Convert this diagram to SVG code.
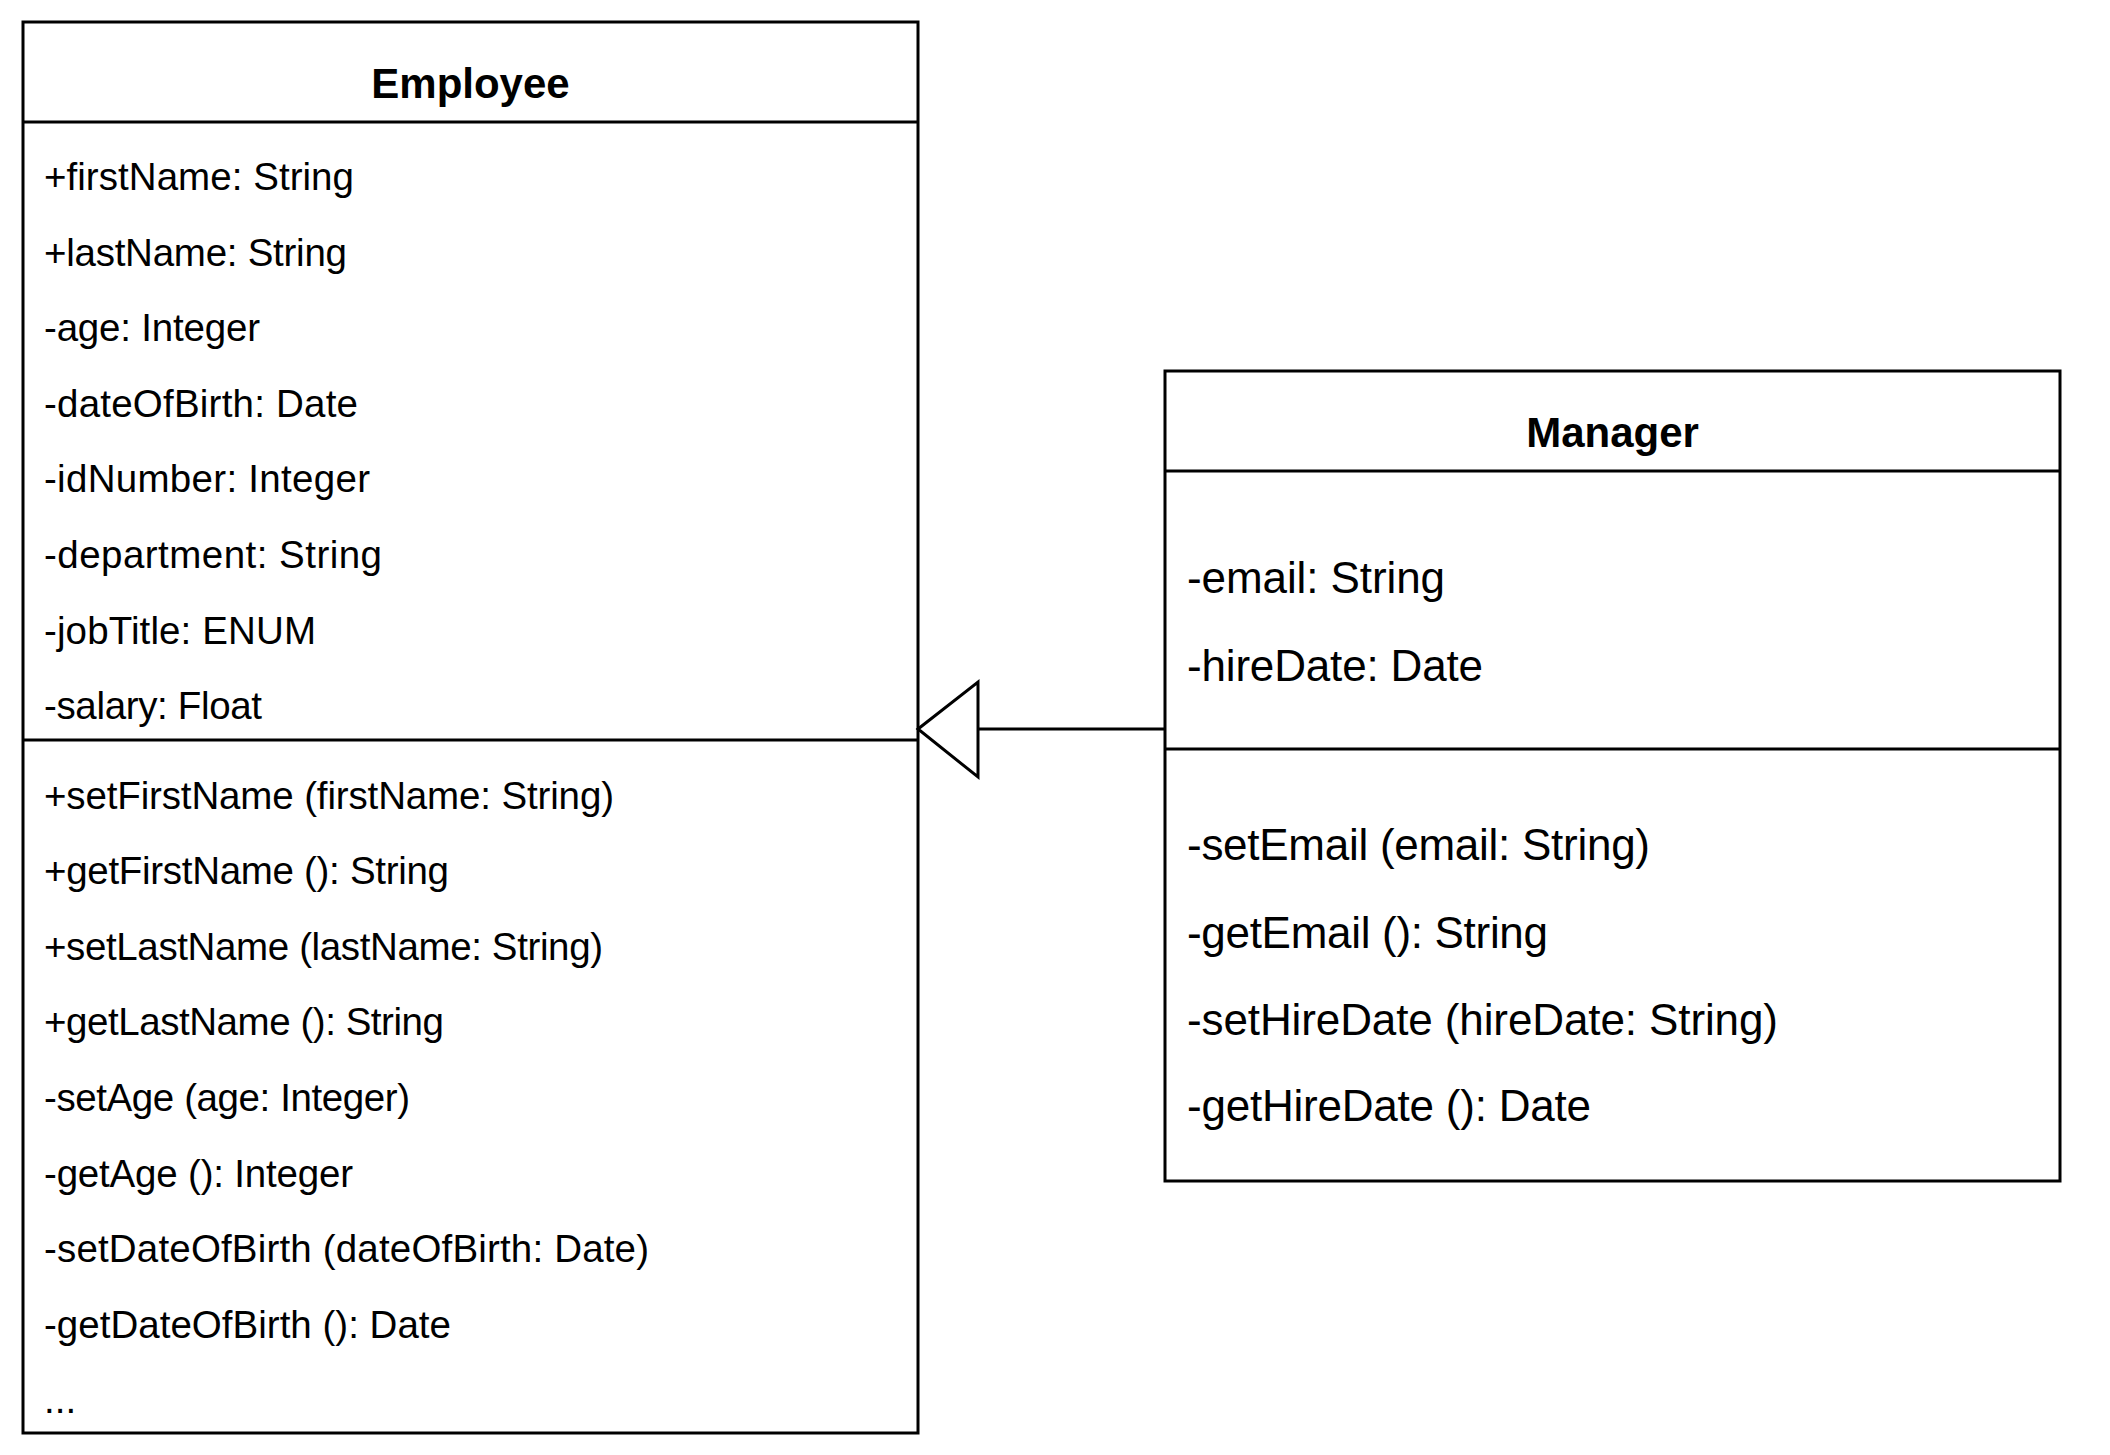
<svg xmlns="http://www.w3.org/2000/svg" width="2110" height="1455" viewBox="0 0 2110 1455">
<style>
.box{fill:#fff;stroke:#000;stroke-width:3}
.ln{stroke:#000;stroke-width:3;fill:none}
.title{font-family:"Liberation Sans",Arial,sans-serif;font-weight:bold;font-size:42px;text-anchor:middle;fill:#000}
.e{font-family:"Liberation Sans",Arial,sans-serif;font-size:38.5px;fill:#000}
.m{font-family:"Liberation Sans",Arial,sans-serif;font-size:44px;fill:#000}
</style>
<rect width="2110" height="1455" fill="#fff"/>
<g id="employee">
<rect class="box" x="23" y="22" width="895" height="1411"/>
<line class="ln" x1="23" y1="122" x2="918" y2="122"/>
<line class="ln" x1="23" y1="740" x2="918" y2="740"/>
<text class="title" x="470.5" y="98">Employee</text>
<text class="e" x="44" y="190" textLength="310">+firstName: String</text>
<text class="e" x="44" y="265.6" textLength="303">+lastName: String</text>
<text class="e" x="44" y="341.2" textLength="216">-age: Integer</text>
<text class="e" x="44" y="416.8" textLength="314">-dateOfBirth: Date</text>
<text class="e" x="44" y="492.4" textLength="326">-idNumber: Integer</text>
<text class="e" x="44" y="568" textLength="338">-department: String</text>
<text class="e" x="44" y="643.6" textLength="272">-jobTitle: ENUM</text>
<text class="e" x="44" y="719.2" textLength="218">-salary: Float</text>
<text class="e" x="44" y="808.5" textLength="570">+setFirstName (firstName: String)</text>
<text class="e" x="44" y="884.1" textLength="405">+getFirstName (): String</text>
<text class="e" x="44" y="959.7" textLength="559">+setLastName (lastName: String)</text>
<text class="e" x="44" y="1035.3" textLength="400">+getLastName (): String</text>
<text class="e" x="44" y="1110.9" textLength="366">-setAge (age: Integer)</text>
<text class="e" x="44" y="1186.5" textLength="309">-getAge (): Integer</text>
<text class="e" x="44" y="1262.1" textLength="605">-setDateOfBirth (dateOfBirth: Date)</text>
<text class="e" x="44" y="1337.7" textLength="407">-getDateOfBirth (): Date</text>
<text class="e" x="44" y="1413.3">...</text>
</g>
<g id="manager">
<rect class="box" x="1165" y="371" width="895" height="810"/>
<line class="ln" x1="1165" y1="471" x2="2060" y2="471"/>
<line class="ln" x1="1165" y1="749" x2="2060" y2="749"/>
<text class="title" x="1612.5" y="447">Manager</text>
<text class="m" x="1187" y="592.5" textLength="258">-email: String</text>
<text class="m" x="1187" y="680.5" textLength="296">-hireDate: Date</text>
<text class="m" x="1187" y="860" textLength="463">-setEmail (email: String)</text>
<text class="m" x="1187" y="948" textLength="361">-getEmail (): String</text>
<text class="m" x="1187" y="1035" textLength="591">-setHireDate (hireDate: String)</text>
<text class="m" x="1187" y="1121" textLength="404">-getHireDate (): Date</text>
</g>
<g id="connectors">
<line class="ln" x1="1165" y1="729" x2="978" y2="729"/>
<polygon class="box" points="918,729 978,682 978,777"/>
</g>
</svg>
